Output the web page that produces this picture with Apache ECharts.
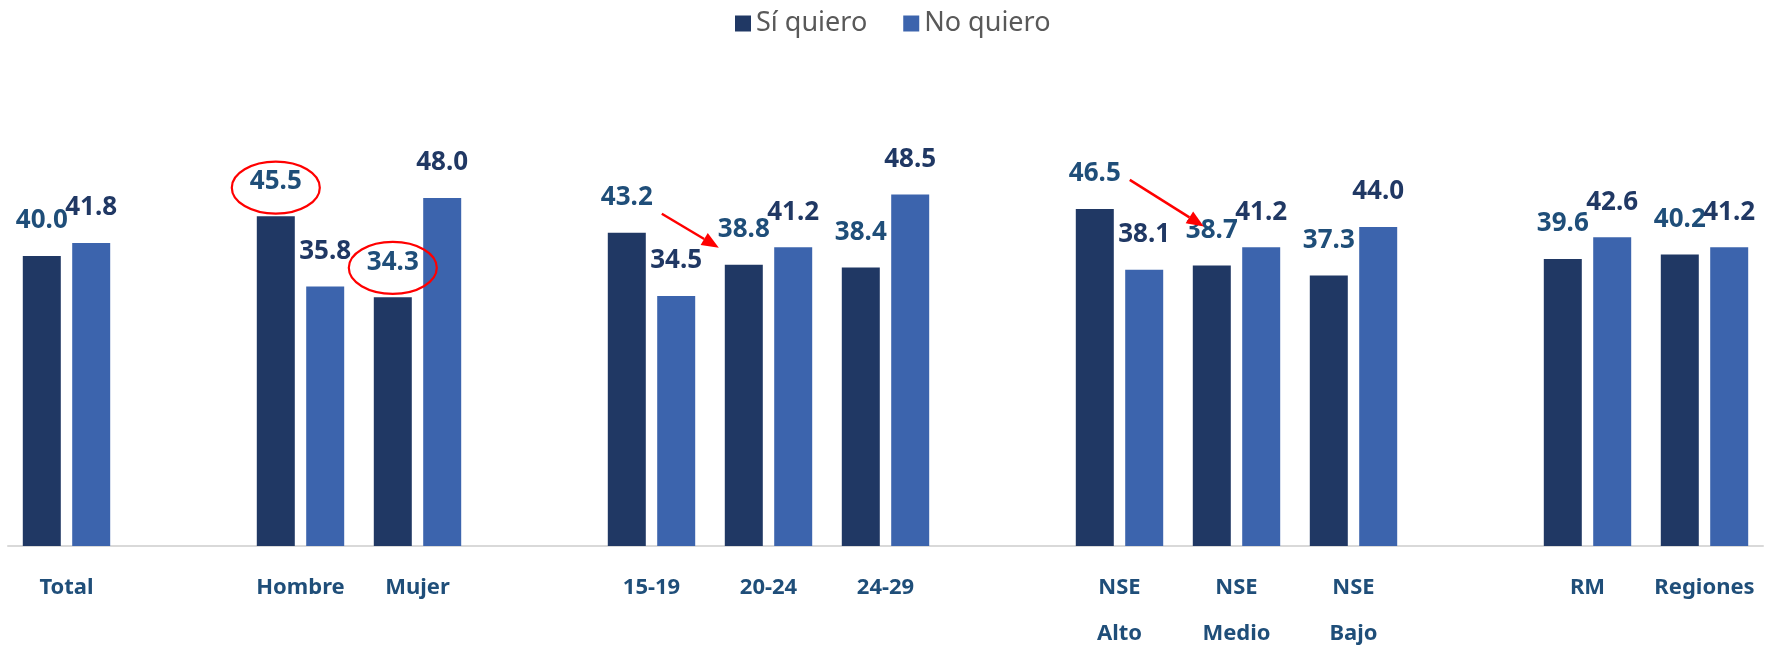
<!DOCTYPE html>
<html>
<head>
<meta charset="utf-8">
<script src="https://cdn.jsdelivr.net/npm/echarts@6/dist/echarts.min.js"></script>
<style>
html,body{margin:0;padding:0;background:#fff;}
#chart{width:1771px;height:648px;}
</style>
</head>
<body>
<div id="chart"></div>
<script>
const categories = ['Total', '', 'Hombre', 'Mujer', '', '15-19', '20-24', '24-29', '', 'NSE\nAlto', 'NSE\nMedio', 'NSE\nBajo', '', 'RM', 'Regiones'];
const siQuiero = [40.0, '-', 45.5, 34.3, '-', 43.2, 38.8, 38.4, '-', 46.5, 38.7, 37.3, '-', 39.6, 40.2];
const noQuiero = [41.8, '-', 35.8, 48.0, '-', 34.5, 41.2, 48.5, '-', 38.1, 41.2, 44.0, '-', 42.6, 41.2];
const seriesNames = ['Sí quiero', 'No quiero'];

const BAR_W = 38;
const GAP_PCT = 30;
const halfOffset = (BAR_W + BAR_W * GAP_PCT / 100) / 2;

const chart = echarts.init(document.getElementById('chart'), null, {renderer: 'canvas'});

const labelFont = {fontFamily: 'Noto Sans', fontWeight: 'bold', fontSize: 26};

chart.setOption({
  animation: false,
  legend: {
    top: 5,
    left: 730,
    itemWidth: 16,
    itemHeight: 16,
    itemGap: 36,
    icon: 'rect',
    textStyle: {fontFamily: 'Noto Sans', fontSize: 27, color: '#595959'},
    data: seriesNames
  },
  grid: {left: 8, right: 8, top: 111, bottom: 102, containLabel: false, outerBoundsMode: 'none'},
  xAxis: {
    type: 'category',
    data: categories,
    axisLine: {show: true, lineStyle: {color: '#D9D9D9', width: 2}},
    axisTick: {show: false},
    axisLabel: {
      interval: 0,
      margin: 19,
      fontFamily: 'Noto Sans',
      fontWeight: 'bold',
      fontSize: 22,
      lineHeight: 46,
      color: '#1F4E79'
    }
  },
  yAxis: {
    type: 'value',
    min: 0,
    max: 60,
    show: false,
    splitLine: {show: false}
  },
  series: [
    {
      name: seriesNames[0],
      type: 'bar',
      data: siQuiero,
      barWidth: BAR_W,
      barGap: GAP_PCT + '%',
      itemStyle: {color: '#203864'},
      label: Object.assign({show: true, position: 'top', distance: 22, color: '#1F4E79',
        formatter: p => Number(p.value).toFixed(1)}, labelFont)
    },
    {
      name: seriesNames[1],
      type: 'bar',
      data: noQuiero,
      barWidth: BAR_W,
      barGap: GAP_PCT + '%',
      itemStyle: {color: '#3C64AD'},
      label: Object.assign({show: true, position: 'top', distance: 22, color: '#203864',
        formatter: p => Number(p.value).toFixed(1)}, labelFont)
    }
  ]
});

// Red annotations anchored to bars (series 0 = dark bars)
function barTop(idx) {
  const p = chart.convertToPixel({seriesIndex: 0}, [idx, siQuiero[idx]]);
  return [p[0] - halfOffset, p[1]];
}
const ellipses = [
  {idx: 2, dy: -28.5},
  {idx: 3, dy: -29.5}
];
const arrows = [
  {from: 5, fdx: 35, fdy: -19, to: 6, tdx: -25, tdy: -17},
  {from: 9, fdx: 35, fdy: -29, to: 10, tdx: -8, tdy: -39}
];
const RED = '#FF0000';
const g = [];
ellipses.forEach(e => {
  const b = barTop(e.idx);
  g.push({type: 'ellipse', shape: {cx: b[0], cy: b[1] + e.dy, rx: 44, ry: 26},
    style: {fill: null, stroke: RED, lineWidth: 2.2}, z: 100});
});
arrows.forEach(a => {
  const s = barTop(a.from), t = barTop(a.to);
  const x1 = s[0] + a.fdx, y1 = s[1] + a.fdy, x2 = t[0] + a.tdx, y2 = t[1] + a.tdy;
  const ang = Math.atan2(y2 - y1, x2 - x1);
  const L = 17, W = 7;
  const bx = x2 - L * Math.cos(ang), by = y2 - L * Math.sin(ang);
  const px = -Math.sin(ang), py = Math.cos(ang);
  g.push({type: 'line', shape: {x1: x1, y1: y1, x2: bx, y2: by},
    style: {stroke: RED, lineWidth: 2.5}, z: 100});
  g.push({type: 'polygon', shape: {points: [[x2, y2], [bx + px * W, by + py * W], [bx - px * W, by - py * W]]},
    style: {fill: RED}, z: 100});
});
chart.setOption({graphic: g});
</script>
</body>
</html>
